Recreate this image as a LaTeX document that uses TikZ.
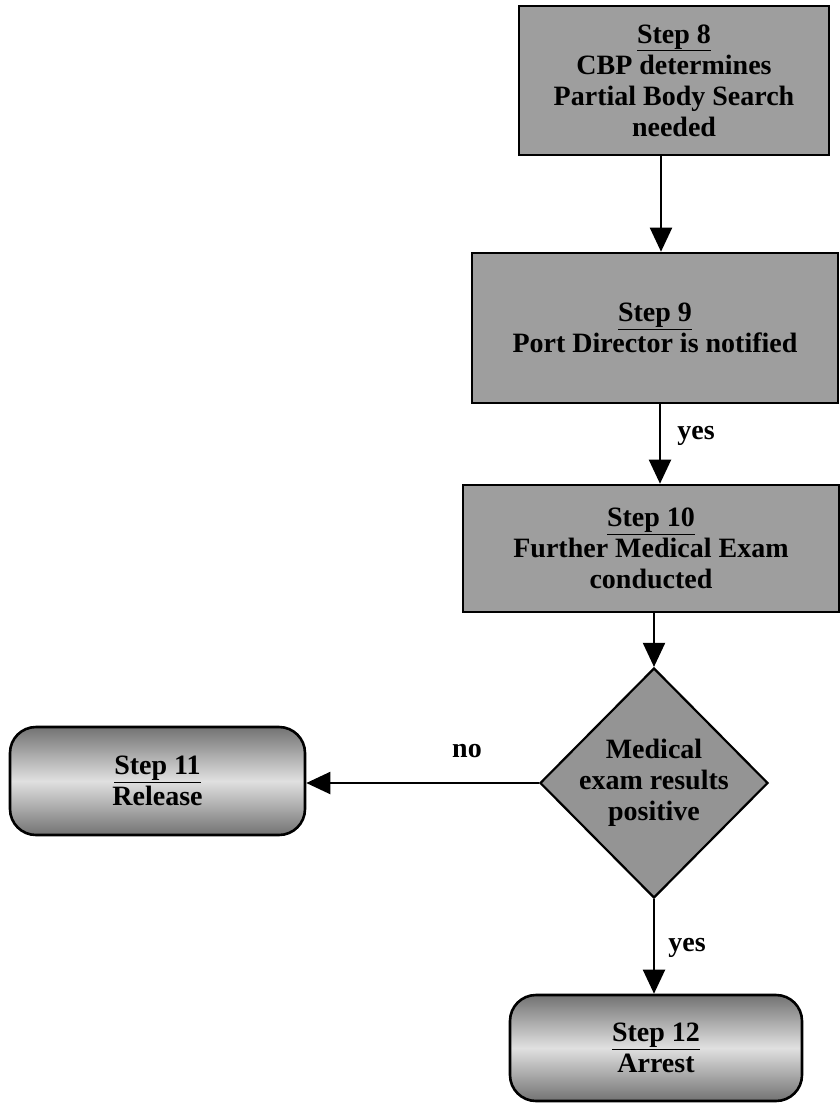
\documentclass[tikz,border=0pt]{standalone}
\usepackage{fontspec}
\setmainfont{Liberation Serif}
\usetikzlibrary{shapes.geometric,arrows.meta}
\tikzset{
  txt/.style={font=\bfseries\fontsize{28}{31}\selectfont, align=center, text=black},
  stepbox/.style={txt, draw=black, line width=2.6pt, fill=black!38, rectangle, inner sep=0pt},
  endbox/.style={txt, draw=black, line width=2.6pt, rectangle, rounded corners=26pt, inner sep=0pt,
     top color=black!55, bottom color=black!55, middle color=black!12, shading angle=0},
  decision/.style={txt, draw=black, line width=2.2pt, fill=black!42, diamond, inner sep=-6pt},
  arr/.style={line width=2pt, -{Triangle[width=22pt,length=24pt]}},
  lbl/.style={font=\bfseries\fontsize{28}{30}\selectfont, text=black}
}
\begin{document}
\begin{tikzpicture}[x=1pt,y=-1pt]
\useasboundingbox (0,0) rectangle (839,1104);
\node[stepbox, minimum width=310pt, minimum height=149pt] (s8) at (674,80.5)
  {\underline{Step 8}\\CBP determines\\Partial Body Search\\needed};
\node[stepbox, minimum width=366pt, minimum height=150pt] (s9) at (655,328)
  {\underline{Step 9}\\Port Director is notified};
\node[stepbox, minimum width=376pt, minimum height=127pt] (s10) at (651,548.5)
  {\underline{Step 10}\\Further Medical Exam\\conducted};
\node[decision, minimum width=228pt, minimum height=230pt] (d) at (654,783)
  {Medical\\exam results\\positive};
\node[endbox, minimum width=295pt, minimum height=108pt] (s11) at (157.5,781)
  {\underline{Step 11}\\Release};
\node[endbox, minimum width=292pt, minimum height=106pt] (s12) at (656,1048)
  {\underline{Step 12}\\Arrest};
\coordinate (a8) at (661,0);
\coordinate (a9) at (660,0);
\coordinate (a10) at (654,0);
\draw[arr] (s8.south -| a8) -- (s9.north -| a8);
\draw[arr] (s9.south -| a9) -- (s10.north -| a9);
\draw[arr] (s10.south -| a10) -- (d.north);
\draw[arr] (d.west) -- (s11.east |- d.west);
\draw[arr] (d.south) -- (s12.north -| d.south);
\node[lbl] (y1) at (696,436) {yes};
\node[lbl] (n1) at (467,751) {no};
\node[lbl] (y2) at (687,948) {yes};
\end{tikzpicture}
\end{document}
